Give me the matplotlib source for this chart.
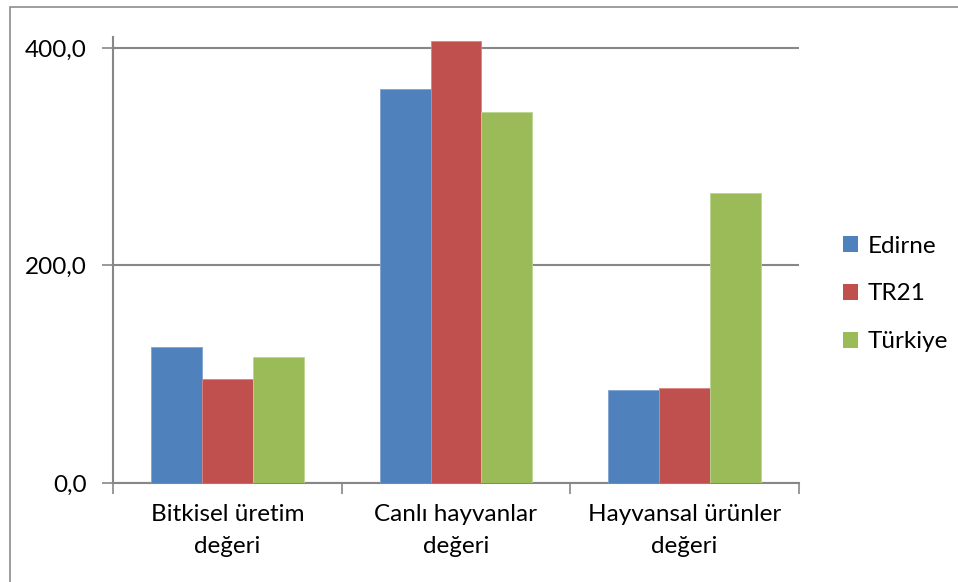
import matplotlib.pyplot as plt
import numpy as np
from matplotlib.patches import Rectangle

plt.rcParams['font.family'] = ['Lato', 'DejaVu Sans']

# data
categories = ["Bitkisel üretim\ndeğeri", "Canlı hayvanlar\ndeğeri", "Hayvansal ürünler\ndeğeri"]
series_names = ["Edirne", "TR21", "Türkiye"]
edirne = [125.4, 362.0, 85.5]
tr21 = [95.3, 406.7, 87.7]
turkiye = [115.9, 341.4, 266.7]
yticks = [0, 200, 400]
ytick_labels = ["0,0", "200,0", "400,0"]

colors = ["#4f81bd", "#c0504d", "#9bbb59"]
edges = ["#7fa3d1", "#d98583", "#bcd493"]
grey = "#878787"
fs = 17.5

fig = plt.figure(figsize=(9.58, 5.82), dpi=100)
ax = fig.add_axes([113 / 958, 1 - 483 / 582, (799 - 113) / 958, (483 - 37) / 582])

# chart border (partially visible)
fig.patches.append(Rectangle((10 / 958, -0.1), 1.2, 1 - 7 / 582 + 0.1,
                             transform=fig.transFigure, fill=False,
                             edgecolor="#8c8c8c", linewidth=1.2))

x = np.arange(len(categories))
w = 1 / 4.5
for i, (vals, name) in enumerate(zip([edirne, tr21, turkiye], series_names)):
    ax.bar(x + (i - 1) * w, vals, width=w, color=colors[i], label=name,
           edgecolor=edges[i], linewidth=0.6, zorder=3)

ax.set_xlim(-0.5, 2.5)
ax.set_ylim(0, 410)
ax.set_yticks(yticks)
ax.set_yticklabels(ytick_labels)
ax.yaxis.grid(True, color=grey, linewidth=1.5, zorder=0)
ax.set_axisbelow(True)

ax.set_xticks([-0.5, 0.5, 1.5, 2.5])
ax.set_xticklabels([])
ax.set_xticks(x, minor=True)
ax.set_xticklabels(categories, minor=True, fontsize=fs, linespacing=1.65)
ax.tick_params(axis="x", which="minor", length=0, pad=15)
ax.tick_params(axis="x", which="major", length=8, width=1.2, color=grey, direction="out")
ax.tick_params(axis="y", length=8, width=1.2, color=grey, direction="out",
               labelsize=fs, pad=11)

for s in ["top", "right"]:
    ax.spines[s].set_visible(False)
for s in ["left", "bottom"]:
    ax.spines[s].set_color(grey)
    ax.spines[s].set_linewidth(1.5)

leg = ax.legend(loc="center left", bbox_to_anchor=(826 / 958, 1 - 294 / 582),
                bbox_transform=fig.transFigure, frameon=False, fontsize=fs,
                handlelength=0.62, handleheight=0.62, handletextpad=0.4,
                labelspacing=1.1, borderpad=0.2)
for h in leg.legend_handles:
    h.set_edgecolor("none")

fig.savefig("out.png", dpi=100)
